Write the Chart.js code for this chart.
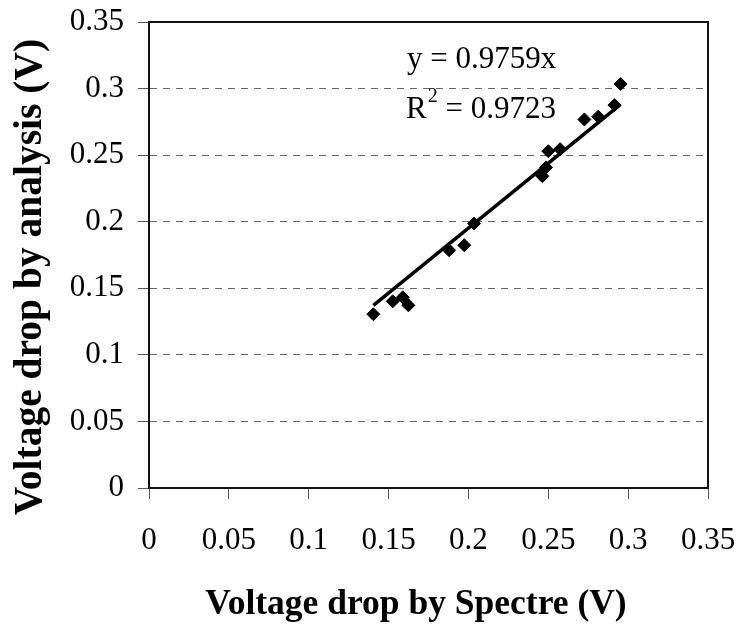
<!DOCTYPE html>
<html>
<head>
<meta charset="utf-8">
<script src="https://cdn.jsdelivr.net/npm/chart.js@4/dist/chart.umd.min.js"></script>
<style>
  html, body { margin: 0; padding: 0; background: #fff; }
  #wrap { width: 738px; height: 625px; position: relative; }
</style>
</head>
<body>
<div id="wrap"><canvas id="chart"></canvas></div>
<script>
// Values
const spectreV  = [0.1405, 0.1526, 0.1589, 0.1624, 0.1879, 0.1974, 0.2035, 0.2463, 0.2486, 0.2500, 0.2574, 0.2726, 0.2813, 0.2914, 0.2953];
const analysisV = [0.1305, 0.1402, 0.1432, 0.1372, 0.1786, 0.1823, 0.1986, 0.2342, 0.2408, 0.2530, 0.2545, 0.2768, 0.2789, 0.2876, 0.3034];
const tickValues = [0, 0.05, 0.1, 0.15, 0.2, 0.25, 0.3, 0.35];
const tickLabels = ['0', '0.05', '0.1', '0.15', '0.2', '0.25', '0.3', '0.35'];
const trendSlope = 0.9759;
const trendR2 = '0.9723';
const xTitle = 'Voltage drop by Spectre (V)';
const yTitle = 'Voltage drop by analysis (V)';

const points = spectreV.map((x, i) => ({ x: x, y: analysisV[i] }));
const xMin = Math.min(...spectreV);
const xMax = Math.max(...spectreV);
const trend = [
    { x: xMin, y: trendSlope * xMin },
    { x: xMax, y: trendSlope * xMax }
];

const serif = "'Liberation Serif', 'Times New Roman', serif";

// Frame round the plot area, axis titles and the trendline label
const decorations = {
    id: 'decorations',
    afterDraw(chart) {
        const ctx = chart.ctx;
        const a = chart.chartArea;
        ctx.save();
        ctx.strokeStyle = '#111';
        ctx.lineWidth = 2;
        ctx.strokeRect(a.left, a.top, a.right - a.left, a.bottom - a.top);

        ctx.fillStyle = '#000';
        ctx.font = 'bold 35.5px ' + serif;
        ctx.textAlign = 'center';
        ctx.textBaseline = 'alphabetic';
        ctx.fillText(xTitle, 416, 614);

        ctx.save();
        ctx.translate(41, 277);
        ctx.rotate(-Math.PI / 2);
        ctx.font = 'bold 39.5px ' + serif;
        ctx.fillText(yTitle, 0, 0);
        ctx.restore();

        ctx.textAlign = 'left';
        ctx.font = '31px ' + serif;
        ctx.fillText('y = ' + trendSlope + 'x', 407, 68);
        ctx.fillText('R', 406, 118);
        const rw = ctx.measureText('R').width;
        ctx.font = '20px ' + serif;
        ctx.fillText('2', 406 + rw + 1, 102);
        ctx.font = '31px ' + serif;
        ctx.fillText(' = ' + trendR2, 406 + rw + 11, 118);
        ctx.restore();
    }
};

new Chart(document.getElementById('chart'), {
    type: 'scatter',
    data: {
        datasets: [
            {
                data: points,
                pointStyle: 'rectRot',
                pointRadius: 6.5,
                pointBackgroundColor: '#000',
                pointBorderColor: '#000',
                pointBorderWidth: 1
            },
            {
                data: trend,
                showLine: true,
                borderColor: '#000',
                borderWidth: 3.5,
                pointRadius: 0
            }
        ]
    },
    options: {
        responsive: true,
        maintainAspectRatio: false,
        animation: false,
        layout: { padding: { top: 22, right: 30, left: 0, bottom: 0 } },
        plugins: {
            legend: { display: false },
            tooltip: { enabled: false }
        },
        scales: {
            x: {
                type: 'linear',
                min: 0,
                max: 0.35,
                afterFit: s => {
                    s.height = 137;
                    s.paddingLeft = 0;
                    s.paddingRight = 0;
                },
                afterBuildTicks: s => { s.ticks = tickValues.map(v => ({ value: v })); },
                ticks: {
                    callback: (v, i) => tickLabels[i],
                    color: '#000',
                    padding: 23,
                    maxRotation: 0,
                    font: { family: serif, size: 31 }
                },
                grid: {
                    drawOnChartArea: false,
                    drawTicks: true,
                    tickLength: 11,
                    tickColor: '#555',
                    tickWidth: 1
                },
                border: { color: '#000', width: 2 }
            },
            y: {
                type: 'linear',
                min: 0,
                max: 0.35,
                afterFit: s => {
                    s.width = 149;
                    s.paddingTop = 0;
                    s.paddingBottom = 0;
                },
                afterBuildTicks: s => { s.ticks = tickValues.map(v => ({ value: v })); },
                ticks: {
                    callback: (v, i) => tickLabels[i],
                    color: '#000',
                    padding: 14,
                    font: { family: serif, size: 31 }
                },
                grid: {
                    color: '#666',
                    lineWidth: 1,
                    tickLength: 11,
                    tickColor: '#555',
                    tickWidth: 1,
                    tickBorderDash: []
                },
                border: { color: '#000', width: 2, dash: [7, 6] }
            }
        }
    },
    plugins: [decorations]
});
</script>
</body>
</html>
